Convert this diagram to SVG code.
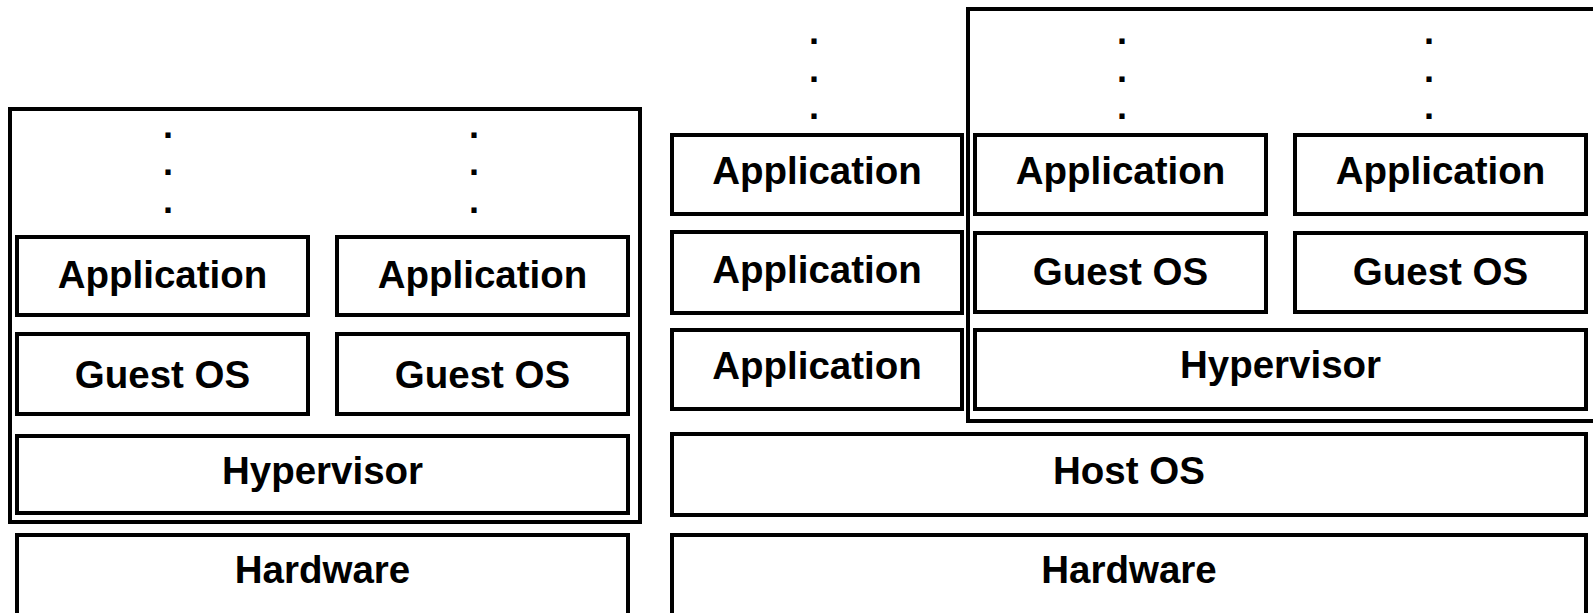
<svg xmlns="http://www.w3.org/2000/svg" width="1593" height="613" viewBox="0 0 1593 613">
<style>
.box{fill:#fff;stroke:#000;stroke-width:4}
.frame{fill:none;stroke:#000;stroke-width:4}
.lbl{font-family:"Liberation Sans",Arial,sans-serif;font-weight:bold;font-size:38.5px;fill:#000;text-anchor:middle}
.dot{font-family:"Liberation Sans",Arial,sans-serif;font-weight:bold;font-size:36px;fill:#000;text-anchor:middle}
</style>
<rect width="1593" height="613" fill="#fff"/>
<g id="type1">
  <rect class="frame" x="10" y="109" width="630" height="413"/>
  <g id="t1-dots1"><text class="dot" x="168" y="137.5">.</text><text class="dot" x="168" y="174.5">.</text><text class="dot" x="168" y="212.5">.</text></g>
  <g id="t1-dots2"><text class="dot" x="474" y="137.5">.</text><text class="dot" x="474" y="174.5">.</text><text class="dot" x="474" y="212.5">.</text></g>
  <g id="t1-app1"><rect class="box" x="17" y="237" width="291" height="78"/><text class="lbl" x="162.5" y="288">Application</text></g>
  <g id="t1-app2"><rect class="box" x="337" y="237" width="291" height="78"/><text class="lbl" x="482.5" y="288">Application</text></g>
  <g id="t1-guest1"><rect class="box" x="17" y="334" width="291" height="80"/><text class="lbl" x="162.5" y="388">Guest OS</text></g>
  <g id="t1-guest2"><rect class="box" x="337" y="334" width="291" height="80"/><text class="lbl" x="482.5" y="388">Guest OS</text></g>
  <g id="t1-hyp"><rect class="box" x="17" y="436" width="611" height="77"/><text class="lbl" x="322.5" y="484">Hypervisor</text></g>
</g>
<g id="t1-hw"><rect class="box" x="17" y="535" width="611" height="82"/><text class="lbl" x="322.5" y="583">Hardware</text></g>
<g id="type2">
  <rect class="frame" x="968" y="9" width="640" height="412"/>
  <g id="t2-dots0"><text class="dot" x="814" y="43.5">.</text><text class="dot" x="814" y="81.5">.</text><text class="dot" x="814" y="118.5">.</text></g>
  <g id="t2-dots1"><text class="dot" x="1122" y="43.5">.</text><text class="dot" x="1122" y="81.5">.</text><text class="dot" x="1122" y="118.5">.</text></g>
  <g id="t2-dots2"><text class="dot" x="1429" y="43.5">.</text><text class="dot" x="1429" y="81.5">.</text><text class="dot" x="1429" y="118.5">.</text></g>
  <g id="t2-happ1"><rect class="box" x="672" y="135" width="290" height="79"/><text class="lbl" x="817" y="184">Application</text></g>
  <g id="t2-happ2"><rect class="box" x="672" y="232" width="290" height="81"/><text class="lbl" x="817" y="283">Application</text></g>
  <g id="t2-happ3"><rect class="box" x="672" y="330" width="290" height="79"/><text class="lbl" x="817" y="379">Application</text></g>
  <g id="t2-app1"><rect class="box" x="975" y="135" width="291" height="79"/><text class="lbl" x="1120.5" y="184">Application</text></g>
  <g id="t2-app2"><rect class="box" x="1295" y="135" width="291" height="79"/><text class="lbl" x="1440.5" y="184">Application</text></g>
  <g id="t2-guest1"><rect class="box" x="975" y="233" width="291" height="79"/><text class="lbl" x="1120.5" y="285">Guest OS</text></g>
  <g id="t2-guest2"><rect class="box" x="1295" y="233" width="291" height="79"/><text class="lbl" x="1440.5" y="285">Guest OS</text></g>
  <g id="t2-hyp"><rect class="box" x="975" y="330" width="611" height="79"/><text class="lbl" x="1280.5" y="378">Hypervisor</text></g>
</g>
<g id="t2-host"><rect class="box" x="672" y="434" width="914" height="81"/><text class="lbl" x="1129" y="484">Host OS</text></g>
<g id="t2-hw"><rect class="box" x="672" y="535" width="914" height="82"/><text class="lbl" x="1129" y="583">Hardware</text></g>
<g id="connectors"></g>
</svg>
